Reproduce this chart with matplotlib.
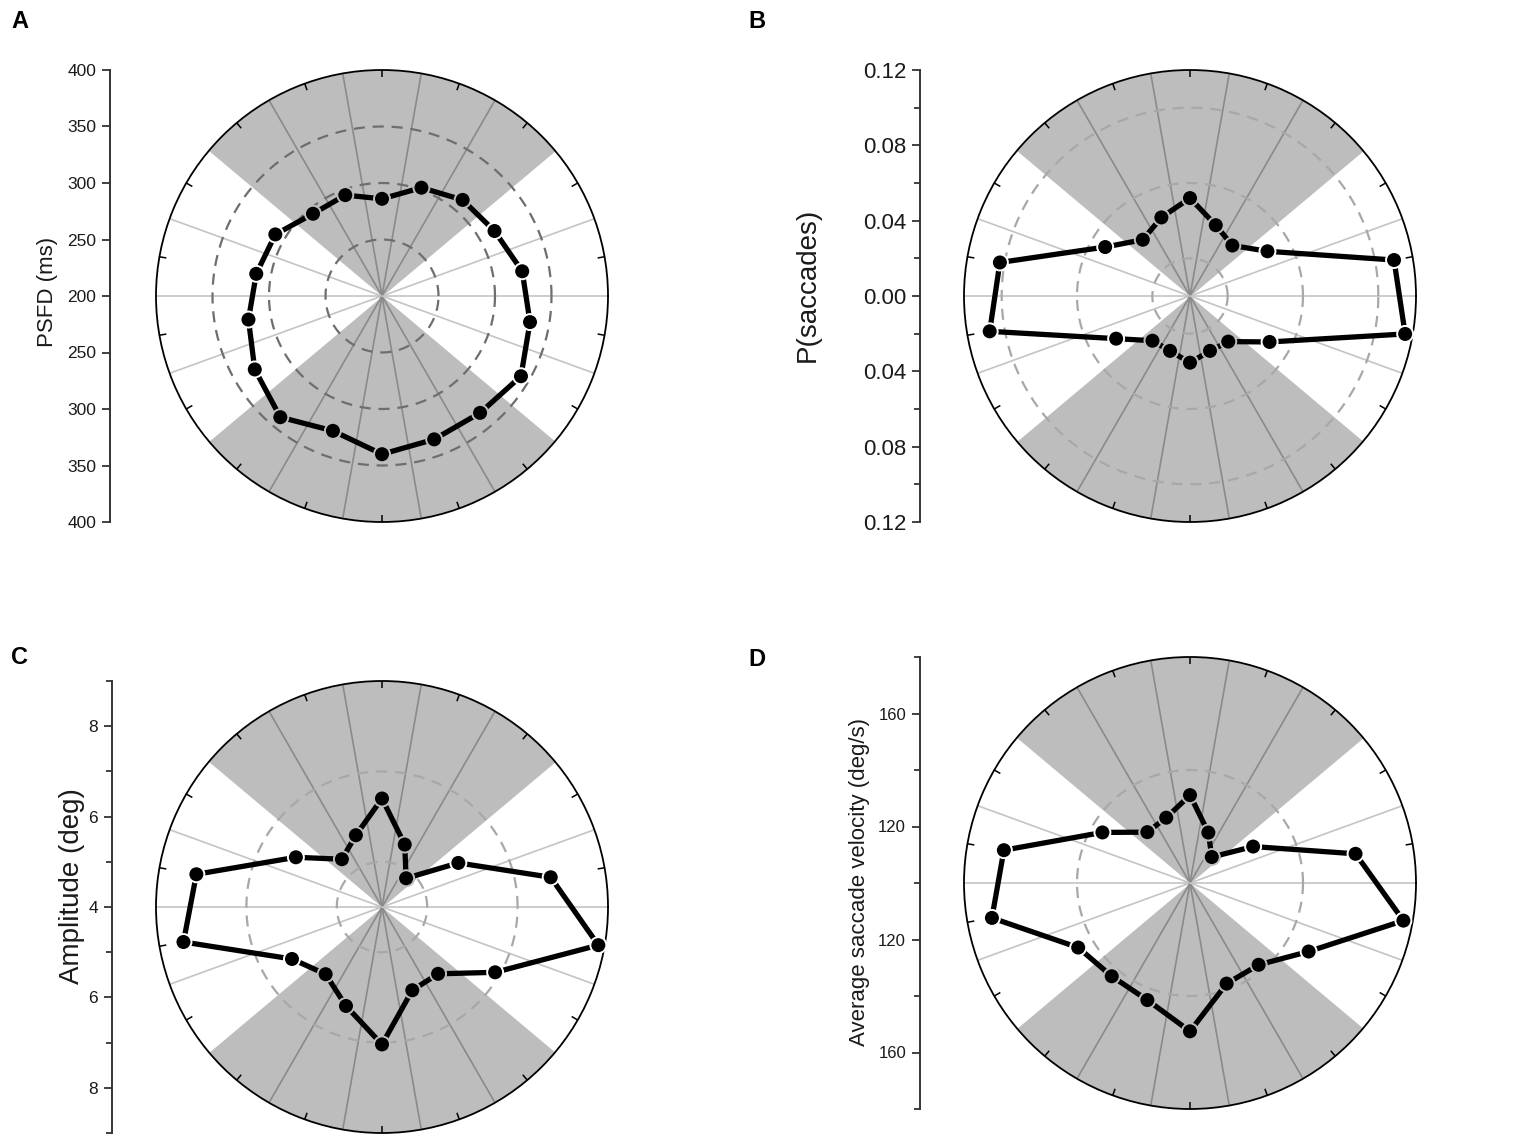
import numpy as np
import matplotlib
matplotlib.use("Agg")
import matplotlib.pyplot as plt

plt.rcParams['font.family'] = ['Liberation Sans', 'DejaVu Sans']

# direction bins (deg)
angles = [10, 30, 50, 70, 90, 110, 130, 150, 170, 190, 210, 230, 250, 270, 290, 310, 330, 350]
grid_angles = [0, 20, 60, 80, 100, 120, 160, 180, 200, 240, 260, 280, 300, 340]
gray_sectors = [(40, 140), (220, 320)]

# panel A: PSFD (ms)
psfd = [326, 315, 311, 302, 286, 295, 295, 309, 313, 320, 330, 340, 327, 340, 335, 335, 342, 333]
psfd_ticks = [200, 250, 300, 350, 400]
psfd_minor = []
psfd_rings = [250, 300, 350]

# panel B: P(saccades)
psac = [0.110, 0.0475, 0.035, 0.040, 0.052, 0.0444, 0.039, 0.052, 0.1025, 0.108,
        0.0453, 0.031, 0.031, 0.0354, 0.031, 0.0316, 0.0488, 0.116]
psac_ticks = [0.00, 0.04, 0.08, 0.12]
psac_minor = [0.02, 0.06, 0.10]
psac_rings = [0.02, 0.06, 0.10]

# panel C: amplitude (deg)
amp = [7.79, 5.95, 4.83, 5.47, 6.40, 5.69, 5.38, 6.20, 8.17, 8.46,
       6.30, 5.94, 6.33, 7.04, 5.96, 5.93, 6.89, 8.86]
amp_ticks = [4, 6, 8]
amp_minor = [5, 7, 9]
amp_rings = [5, 7]

# panel D: average saccade velocity (deg/s)
vel = [159.5, 125.8, 112, 119, 131.1, 124.6, 123.5, 135.8, 166.9, 171.2,
       145.7, 143.1, 144.1, 152.5, 137.9, 137.8, 148.5, 176.7]
vel_ticks = [120, 160]
vel_minor = [100, 140, 180]
vel_rings = [140]

W, H = 1535, 1148
fig = plt.figure(figsize=(W / 100, H / 100), dpi=100)
R = 226
GRAY = '#bdbdbd'


def is_gray(a):
    return any(a0 < a < a1 for a0, a1 in gray_sectors)


def panel(cx, cy, axx, vals, rlo, rhi, ticks, minor, rings, ring_col,
          tick_fmt, tick_fs, label, label_xy, label_fs, letter, letter_xy):
    ax = fig.add_axes([(cx - R) / W, (H - cy - R) / H, 2 * R / W, 2 * R / H],
                      projection='polar')
    ax.set_ylim(rlo, rhi)
    ax.set_yticks([])
    ax.set_xticks([])
    ax.grid(False)
    ax.spines['polar'].set_linewidth(1.3)
    span = rhi - rlo

    for a0, a1 in gray_sectors:
        t = np.linspace(np.deg2rad(a0), np.deg2rad(a1), 100)
        ax.fill_between(t, rlo, rhi, color=GRAY, lw=0, zorder=1)
    for g in grid_angles:
        ax.plot([np.deg2rad(g)] * 2, [rlo, rhi],
                color='#8a8a8a' if is_gray(g) else '#c4c4c4', lw=1.2, zorder=2)
    tt = np.linspace(0, 2 * np.pi, 361)
    for rr in rings:
        ax.plot(tt, np.full_like(tt, rr), color=ring_col, lw=1.6,
                ls=(0, (5, 3.5)), zorder=3)
    # inward ticks on the outer circle
    for a in angles:
        ax.plot([np.deg2rad(a)] * 2, [rhi - span * 7 / R, rhi], color='black',
                lw=1.1, zorder=4, solid_capstyle='butt')

    th = np.deg2rad(angles + angles[:1])
    vv = list(vals) + list(vals[:1])
    ax.plot(th, vv, '-', color='black', lw=3.8, zorder=5, clip_on=False)
    edge = [GRAY if is_gray(a) else 'white' for a in angles]
    ax.scatter(np.deg2rad(angles), vals, s=11.5 ** 2, c='black', edgecolors=edge,
               linewidths=1.4, zorder=6, clip_on=False)

    # mirrored radial scale on the left
    lax = fig.add_axes([axx / W, (H - cy - R) / H, 0.0005, 2 * R / H])
    lax.set_ylim(-span, span)
    pos, labs = [], []
    for v in ticks:
        for s in ([1, -1] if v != rlo else [1]):
            pos.append(s * (v - rlo))
            labs.append(tick_fmt.format(v))
    lax.set_yticks(pos)
    lax.set_yticklabels(labs, fontsize=tick_fs, color='#1a1a1a')
    mpos = []
    for v in minor:
        for s in ([1, -1] if v != rlo else [1]):
            mpos.append(s * (v - rlo))
    lax.set_yticks(mpos, minor=True)
    lax.tick_params(axis='y', which='major', length=6, width=1.3, color='#333333', pad=4)
    lax.tick_params(axis='y', which='minor', length=4, width=1.3, color='#333333')
    lax.set_xticks([])
    for s in ['top', 'right', 'bottom']:
        lax.spines[s].set_visible(False)
    lax.spines['left'].set_linewidth(1.4)
    lax.spines['left'].set_color('#333333')
    lax.patch.set_visible(False)

    fig.text(label_xy[0] / W, 1 - label_xy[1] / H, label, rotation=90,
             ha='center', va='center', fontsize=label_fs, color='#1a1a1a')
    fig.text(letter_xy[0] / W, 1 - letter_xy[1] / H, letter, ha='left',
             va='center', fontsize=17, fontweight='bold')


panel(382, 296, 110, psfd, 200, 400, psfd_ticks, psfd_minor, psfd_rings, '#6e6e6e',
      '{:d}', 12.5, 'PSFD (ms)', (47, 292), 16, 'A', (11, 22))
panel(1190, 296, 920, psac, 0.0, 0.12, psac_ticks, psac_minor, psac_rings, '#a8a8a8',
      '{:.2f}', 16, 'P(saccades)', (808, 285), 20, 'B', (748, 21))
panel(382, 907, 112, amp, 4, 9, amp_ticks, amp_minor, amp_rings, '#a8a8a8',
      '{:d}', 12.5, 'Amplitude (deg)', (72, 886), 20, 'C', (11, 658))
panel(1190, 883, 920, vel, 100, 180, vel_ticks, vel_minor, vel_rings, '#a8a8a8',
      '{:d}', 12, 'Average saccade velocity (deg/s)', (859, 882), 16, 'D', (748, 660))

fig.savefig('out.png', dpi=100)
